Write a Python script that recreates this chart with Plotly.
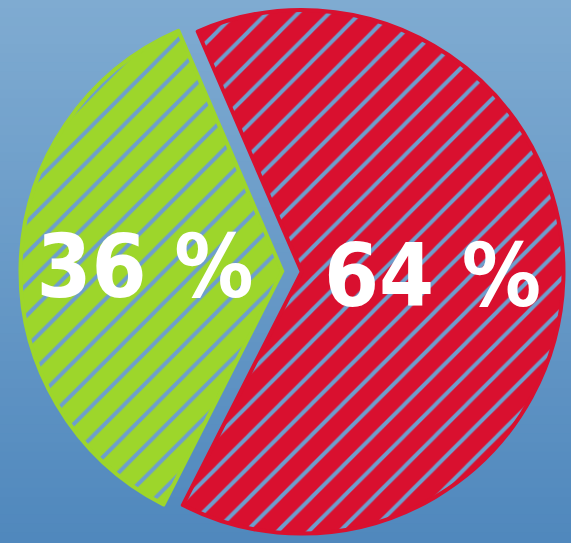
import plotly.graph_objects as go

labels = ["Green", "Red"]
values = [36, 64]
text_labels = ["36 %", "64 %"]
colors = ["#9dd62b", "#d9102f"]
streak = "#6d9ecd"

W, H = 571, 543

fig = go.Figure()
fig.add_trace(go.Pie(
    labels=labels,
    values=values,
    text=text_labels,
    textinfo="text",
    textposition="inside",
    insidetextorientation="horizontal",
    sort=False,
    direction="counterclockwise",
    rotation=207,
    pull=[0.037, 0.037],
    marker=dict(
        colors=colors,
        line=dict(color=colors, width=4),
        pattern=dict(shape="/", fgcolor=streak, bgcolor=colors, size=22, solidity=0.18, fillmode="replace"),
    ),
    textfont=dict(family="DejaVu Sans Condensed", size=88, color="white", weight="bold"),
    domain=dict(x=[(292 - 271.5) / W, (292 + 271.5) / W], y=[0, 1]),
    showlegend=False,
    hoverinfo="label+percent",
))

# vertical background gradient built from thin bands
top = (127, 171, 209)
bot = (80, 136, 189)
n = 60
shapes = []
for i in range(n):
    t = i / (n - 1)
    c = tuple(round(top[k] + (bot[k] - top[k]) * t) for k in range(3))
    shapes.append(dict(type="rect", xref="paper", yref="paper",
                       x0=0, x1=1, y0=1 - (i + 1) / n, y1=1 - i / n + 0.002,
                       fillcolor="rgb(%d,%d,%d)" % c, line=dict(width=0), layer="below"))

fig.update_layout(
    width=W, height=H,
    margin=dict(l=0, r=0, t=0, b=0),
    paper_bgcolor="#6a9bcb",
    plot_bgcolor="#6a9bcb",
    shapes=shapes,
)

fig.write_html("out.html")
